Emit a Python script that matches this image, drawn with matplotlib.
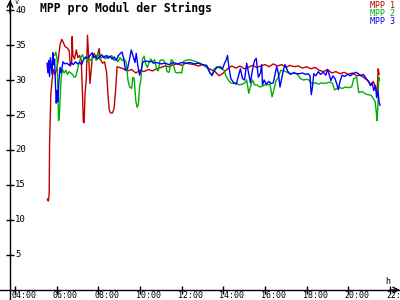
import matplotlib
matplotlib.use("Agg")
import matplotlib.pyplot as plt
from matplotlib.transforms import offset_copy

# time in decimal hours, voltage in V
t_mpp1 = [5.56, 5.60, 5.64, 5.66, 5.72, 5.78, 5.84, 5.92, 6.00, 6.08, 6.16, 6.24, 6.30, 6.40,
          6.50, 6.60, 6.66, 6.72, 6.74, 6.78, 6.86, 6.94, 7.02, 7.10, 7.18, 7.24, 7.28, 7.32,
          7.36, 7.42, 7.48, 7.54, 7.60, 7.66, 7.72, 7.80, 7.88, 7.96, 8.04, 8.10, 8.20, 8.30,
          8.40, 8.46, 8.52, 8.58, 8.68, 8.76, 8.84, 8.90, 9.00, 9.2, 9.4, 9.6, 9.8, 10.0, 10.2,
          10.4, 10.6, 10.8, 11.0, 11.2, 11.4, 11.6, 11.8, 12.0, 12.2, 12.4, 12.6, 12.8, 13.0,
          13.2, 13.4, 13.6, 13.8, 14.0, 14.2, 14.4, 14.6, 14.8, 15.0, 15.2, 15.4, 15.6, 15.8,
          16.0, 16.2, 16.4, 16.6, 16.8, 17.0, 17.2, 17.4, 17.6, 17.8, 18.0, 18.2, 18.4, 18.6,
          18.8, 19.0, 19.2, 19.4, 19.6, 19.8, 20.0, 20.2, 20.4, 20.6, 20.8, 20.9, 21.0, 21.1,
          21.2, 21.3, 21.38, 21.43, 21.48]
v_mpp1 = [13.0, 12.7, 13.6, 21.0, 28.0, 30.0, 31.5, 30.8, 31.5, 33.0, 35.0, 35.8, 35.5, 34.8,
          34.6, 34.2, 32.0, 32.5, 36.2, 33.5, 33.0, 34.3, 33.2, 33.5, 32.8, 28.0, 24.0, 23.9,
          28.0, 30.0, 36.4, 33.0, 29.5, 31.5, 33.5, 33.8, 33.3, 33.6, 34.5, 33.0, 32.4, 32.6,
          31.0, 28.0, 25.8, 25.3, 25.3, 26.0, 29.0, 31.9, 31.8, 31.6, 31.3, 31.5, 31.0, 31.4,
          31.2, 31.5, 31.3, 31.6, 31.8, 32.0, 31.9, 32.2, 32.3, 32.1, 32.4, 32.3, 32.2, 32.0,
          32.2, 31.8, 31.5, 31.2, 30.6, 31.0, 31.6, 32.0, 31.7, 32.0, 31.6, 31.8, 32.1, 31.8,
          32.0, 32.2, 31.9, 32.3, 32.0, 32.2, 31.8, 32.1, 31.9, 32.0, 31.7, 31.9, 31.6, 31.8,
          31.4, 31.2, 31.5, 31.0, 31.2, 30.9, 31.1, 30.8, 31.0, 30.6, 30.7, 30.2, 30.0, 29.6,
          29.3, 29.8, 29.0, 28.1, 31.6, 30.8]

t_mpp2 = [5.90, 5.96, 6.02, 6.06, 6.09, 6.12, 6.16, 6.22, 6.28, 6.36, 6.44, 6.52, 6.60, 6.68,
          6.76, 6.84, 6.92, 7.00, 7.08, 7.16, 7.24, 7.32, 7.40, 7.48, 7.56, 7.64, 7.72, 7.80,
          7.90, 7.98, 8.06, 8.14, 8.24, 8.34, 8.44, 8.54, 8.64, 8.74, 8.84, 8.94, 9.04, 9.14,
          9.24, 9.34, 9.42, 9.50, 9.60, 9.66, 9.72, 9.80, 9.86, 9.92, 9.98, 10.04, 10.12, 10.20,
          10.28, 10.36, 10.44, 10.52, 10.60, 10.70, 10.80, 10.88, 10.96, 11.10, 11.22, 11.30,
          11.40, 11.50, 11.56, 11.62, 11.70, 11.80, 11.90, 12.00, 12.10, 12.20, 12.40, 12.60,
          12.80, 13.00, 13.20, 13.36, 13.46, 13.56, 13.70, 13.90, 14.04, 14.12, 14.24, 14.36,
          14.48, 14.60, 14.76, 14.90, 15.04, 15.12, 15.22, 15.30, 15.40, 15.50, 15.62, 15.74,
          15.86, 15.98, 16.10, 16.24, 16.34, 16.42, 16.52, 16.64, 16.76, 16.88, 17.00, 17.12,
          17.26, 17.40, 17.56, 17.70, 17.84, 17.98, 18.12, 18.20, 18.30, 18.44, 18.56, 18.70,
          18.84, 18.98, 19.12, 19.24, 19.34, 19.46, 19.58, 19.72, 19.86, 20.00, 20.16, 20.26,
          20.40, 20.50, 20.58, 20.70, 20.84, 20.96, 21.10, 21.20, 21.28, 21.34, 21.38, 21.42,
          21.46, 21.50]
v_mpp2 = [33.5, 34.0, 33.0, 28.0, 24.2, 24.5, 27.0, 30.5, 31.5, 31.0, 31.4, 30.8, 31.2, 31.0,
          30.8, 30.4, 30.5, 31.5, 32.5, 33.2, 33.6, 33.0, 33.2, 32.6, 33.0, 32.8, 33.2, 33.5,
          32.8, 33.9, 33.0, 33.2, 33.4, 33.0, 33.5, 33.2, 33.5, 32.8, 33.0, 32.6, 33.2, 32.8,
          33.0, 32.5, 30.0, 29.0, 28.8, 30.4, 30.2, 27.0, 26.1, 26.5, 29.0, 30.0, 33.0, 33.4,
          32.2, 31.8, 32.6, 33.0, 32.5, 32.9, 31.5, 31.3, 32.8, 32.9, 32.4, 31.2,
          31.1, 32.9, 32.8, 32.0, 31.1, 31.0, 31.1, 31.0, 32.7, 32.8, 32.9, 32.7,
          32.5, 32.2, 31.9, 31.0, 30.6, 31.6, 31.9, 31.6, 31.4, 30.6, 30.0, 29.6,
          29.5, 29.6, 29.3, 29.4, 29.6, 30.0, 28.1, 29.0, 30.0, 29.3, 29.3, 29.0,
          29.1, 29.3, 29.3, 29.4, 27.6, 28.5, 29.8, 30.4, 31.4, 31.3, 31.2, 31.0,
          30.9, 31.1, 30.8, 30.2, 30.0, 30.1, 30.0, 29.6, 29.5, 29.6, 29.4, 29.6,
          29.5, 29.6, 29.7, 29.5, 28.6, 28.8, 28.9, 28.8, 29.0, 28.9, 29.0, 30.2,
          30.4, 28.2, 28.3, 28.3, 28.0, 27.9, 27.8, 27.3, 27.0, 25.5, 24.2, 26.5,
          30.4, 30.0]

t_mpp3 = [5.54, 5.58, 5.62, 5.66, 5.70, 5.74, 5.78, 5.82, 5.86, 5.90, 5.94, 5.98, 6.02, 6.06,
          6.10, 6.16, 6.22, 6.30, 6.40, 6.50, 6.60, 6.70, 6.80, 6.90, 7.00, 7.10, 7.20, 7.30,
          7.40, 7.50, 7.60, 7.70, 7.78, 7.86, 7.96, 8.06, 8.16, 8.26, 8.36, 8.46, 8.56, 8.66,
          8.76, 8.86, 8.96, 9.06, 9.14, 9.22, 9.30, 9.40, 9.50, 9.58, 9.66, 9.76, 9.82, 9.90,
          9.98, 10.06, 10.14, 10.30, 10.48, 10.56, 10.64, 10.80, 11.00, 11.20, 11.40, 11.60,
          11.80, 12.00, 12.20, 12.40, 12.60, 12.80, 13.00, 13.20, 13.36, 13.46, 13.56, 13.70,
          13.84, 13.96, 14.06, 14.14, 14.20, 14.26, 14.36, 14.50, 14.62, 14.72, 14.82, 14.92,
          15.02, 15.12, 15.20, 15.30, 15.40, 15.50, 15.58, 15.68, 15.78, 15.84, 15.88, 15.96,
          16.06, 16.18, 16.28, 16.40, 16.48, 16.56, 16.64, 16.72, 16.82, 16.90, 16.96, 17.02,
          17.10, 17.22, 17.36, 17.50, 17.66, 17.80, 17.94, 18.06, 18.16, 18.22, 18.28, 18.34,
          18.44, 18.56, 18.66, 18.80, 18.92, 19.00, 19.08, 19.16, 19.26, 19.36, 19.46, 19.52,
          19.60, 19.70, 19.82, 19.96, 20.10, 20.22, 20.36, 20.48, 20.60, 20.72, 20.86, 20.98,
          21.06, 21.14, 21.22, 21.30, 21.36, 21.42, 21.48, 21.52]
v_mpp3 = [32.4, 31.0, 32.8, 30.5, 33.2, 32.0, 30.8, 33.9, 32.2, 33.0, 29.5, 26.7, 28.5, 26.9,
          29.5, 31.8, 31.0, 32.6, 32.3, 32.4, 32.1, 32.5, 32.2, 32.6, 32.3, 32.5, 32.2, 33.0,
          33.3, 33.1, 33.5, 33.9, 33.2, 33.4, 33.0, 33.3, 33.6, 33.2, 33.5, 33.1, 33.4, 33.0,
          33.3, 32.8, 33.5, 33.8, 34.0, 33.0, 31.4, 31.6, 33.0, 34.3, 33.5, 32.5, 33.8, 32.0,
          30.7, 31.5, 32.6, 32.7, 32.6, 32.7, 32.4, 32.5, 32.3, 32.4, 32.2, 32.5,
          32.3, 32.5, 32.4, 32.5, 32.3, 32.4, 32.2, 32.1, 31.0, 30.7, 31.3, 31.8,
          31.9, 31.6, 32.4, 32.9, 33.5, 32.0, 30.2, 29.6, 29.4, 30.5, 31.6, 30.2,
          30.0, 32.4, 31.2, 29.6, 31.5, 32.8, 33.1, 30.4, 31.0, 32.2, 29.3, 30.0,
          29.4, 29.8, 29.5, 29.6, 30.8, 31.9, 31.0, 29.0, 30.5, 31.6, 32.2, 31.8,
          31.2, 30.8, 31.0, 30.9, 30.9, 31.0, 30.8, 30.9, 30.6, 27.9, 29.0, 30.9,
          30.6, 31.2, 30.8, 31.1, 30.7, 31.5, 30.8, 29.9, 30.6, 30.2, 29.3, 28.6,
          29.8, 30.7, 30.5, 30.8, 30.6, 30.9, 31.1, 30.9, 30.6, 30.8, 30.2, 29.8,
          29.2, 29.6, 28.5, 29.2, 27.5, 28.4, 26.8, 26.4]

series_names = ["MPP 1", "MPP 2", "MPP 3"]
series_colors = ["#c00000", "#00b000", "#0000ff"]
hour_ticks = [4, 6, 8, 10, 12, 14, 16, 18, 20, 22]
volt_ticks = [5, 10, 15, 20, 25, 30, 35, 40]

mono = "DejaVu Sans Mono"

fig = plt.figure(figsize=(4, 3), dpi=100)
ax = fig.add_axes([0, 0, 1, 1])
ax.set_xlim(3.28, 22.48)
ax.set_ylim(-1.43, 41.43)
y_axis_x = 3.76

for t, v, c in zip([t_mpp1, t_mpp2, t_mpp3], [v_mpp1, v_mpp2, v_mpp3], series_colors):
    ax.plot(t, v, color=c, lw=1.0, zorder=3)

# axes through the origin
for s in ["top", "right"]:
    ax.spines[s].set_visible(False)
ax.spines["left"].set_position(("data", y_axis_x))
ax.spines["bottom"].set_position(("data", 0))
ax.spines["left"].set_linewidth(1)
ax.spines["bottom"].set_linewidth(1)
ax.set_xticks(hour_ticks)
ax.set_yticks(volt_ticks)
ax.set_xticklabels([])
ax.set_yticklabels([])
ax.tick_params(direction="inout", length=6, width=1, color="black")

ax.annotate("", xy=(22.48, 0), xytext=(22.0, 0),
            arrowprops=dict(arrowstyle="->", lw=1, color="black", shrinkA=0, shrinkB=0))
ax.annotate("", xy=(y_axis_x, 41.43), xytext=(y_axis_x, 39.5),
            arrowprops=dict(arrowstyle="->", lw=1, color="black", shrinkA=0, shrinkB=0))

xlab_tr = offset_copy(ax.transData, fig=fig, x=-4, y=-1, units="dots")
for h in hour_ticks:
    ax.text(h, 0, "%02d:00" % h, transform=xlab_tr, ha="left", va="top",
            fontsize=6, family=mono, clip_on=False)

ylab_tr = offset_copy(ax.transData, fig=fig, x=5, y=0, units="dots")
for v in volt_ticks:
    ax.text(y_axis_x, v, str(v), transform=ylab_tr, ha="left", va="center",
            fontsize=6.5, family=mono)

fig.text(15 / 400, 1 + 1 / 300, "V", ha="left", va="top", fontsize=5, family=mono)
fig.text(385 / 400, 1 - 277 / 300, "h", ha="left", va="top", fontsize=6, family=mono)

fig.text(40 / 400, 1 - 2 / 300, "MPP pro Modul der Strings", ha="left", va="top",
         fontsize=8.3, fontweight="bold", family=mono)

for i, (name, c) in enumerate(zip(series_names, series_colors)):
    fig.text(370 / 400, 1 - (1.5 + 7.5 * i) / 300, name, ha="left", va="top",
             fontsize=6, family=mono, color=c)

fig.savefig("out.png", dpi=100)
